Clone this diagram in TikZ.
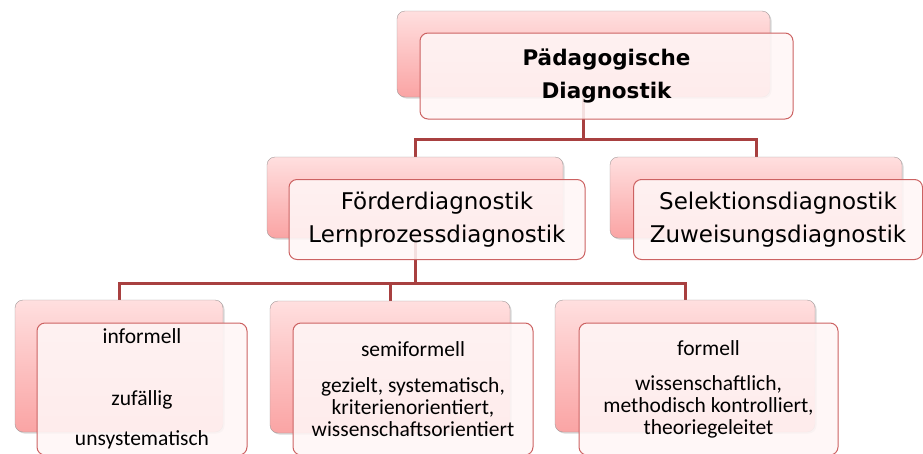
\documentclass[tikz,border=0pt]{standalone}
\usepackage{fontspec}
\usetikzlibrary{shadows}
\newfontfamily\vfont{DejaVu Sans}
\newfontfamily\cfont{Carlito}
\definecolor{PBack}{HTML}{FFDFDF}
\definecolor{PBackDark}{HTML}{FAA4A4}
\definecolor{PEdge}{HTML}{A39A9A}
\definecolor{PFront}{HTML}{FFF6F6}
\definecolor{PRed}{HTML}{CC6262}
\definecolor{PLine}{HTML}{A84040}
\pgfdeclarelayer{bg}
\pgfsetlayers{bg,main}

\begin{document}
\begin{tikzpicture}[x=1pt,y=-1pt,
  back/.style={draw=PEdge,rounded corners=8pt,top color=PBack,bottom color=PBackDark,
    drop shadow={shadow xshift=1.5pt,shadow yshift=-1.5pt,opacity=0.3},inner sep=0pt},
  front/.style={draw=PRed,line width=1pt,rounded corners=8pt,fill=PFront,
    fill opacity=0.88,text opacity=1,align=center,inner sep=0pt},
  head/.style={front,font=\vfont\bfseries\fontsize{21.5}{33}\selectfont},
  branch/.style={front,font=\vfont\fontsize{23}{33}\selectfont},
  leaf/.style={front,font=\cfont\fontsize{21.5}{22}\selectfont},
  tie/.style={draw=PLine,line width=3pt}
]
  \clip (0,0) rectangle (923,453);
  \useasboundingbox (0,0) rectangle (923,453);

  % top
  \node[back,minimum width=373pt,minimum height=86pt] (diagb) at (583.5,54) {};
  \node[head,minimum width=373pt,minimum height=86pt] (diag)
    at ([shift={(23,22)}]diagb.center) {Pädagogische\\Diagnostik};

  % second row
  \node[back,minimum width=296pt,minimum height=81pt] (foerb) at (415,197.5) {};
  \node[branch,minimum width=296pt,minimum height=80pt] (foer)
    at ([shift={(22,22)}]foerb.center) {Förderdiagnostik\\Lernprozessdiagnostik};
  \node[back,minimum width=292pt,minimum height=81pt] (selb) at (756,197.5) {};
  \node[branch,minimum width=289pt,minimum height=80pt] (sel)
    at ([shift={(22,22)}]selb.center) {Selektionsdiagnostik\\Zuweisungsdiagnostik};

  % third row
  \node[back,minimum width=208pt,minimum height=132pt] (infb) at (119,366) {};
  \node[leaf,minimum width=210pt,minimum height=132pt] (inf)
    at ([shift={(23,23)}]infb.center)
    {informell\\[40pt]zufällig\\[18pt]unsystematisch};
  \node[back,minimum width=240pt,minimum height=132pt] (semb) at (390,367) {};
  \node[leaf,minimum width=240pt,minimum height=132pt] (sem)
    at ([shift={(23,22)}]semb.center)
    {semiformell\\[14pt]gezielt, systematisch,\\kriterienorientiert,\\wissenschaftsorientiert};
  \node[back,minimum width=260pt,minimum height=132pt] (fmlb) at (685,366) {};
  \node[leaf,minimum width=259pt,minimum height=132pt] (fml)
    at ([shift={(23.5,23)}]fmlb.center)
    {formell\\[13pt]wissenschaftlich,\\methodisch kontrolliert,\\theoriegeleitet};

  % connectors
  \coordinate (j1) at (583.5,139);
  \coordinate (j2) at (415,283);
  \begin{pgfonlayer}{bg}
    \draw[tie] (diagb.south) -- (j1);
    \draw[tie] (foerb.north) |- (j1) -| (selb.north);
    \draw[tie] (foerb.south) -- (j2);
    \draw[tie] (infb.north) |- (j2) -| (fmlb.north);
    \draw[tie] (j2) -| (semb.north);
  \end{pgfonlayer}
\end{tikzpicture}
\end{document}
